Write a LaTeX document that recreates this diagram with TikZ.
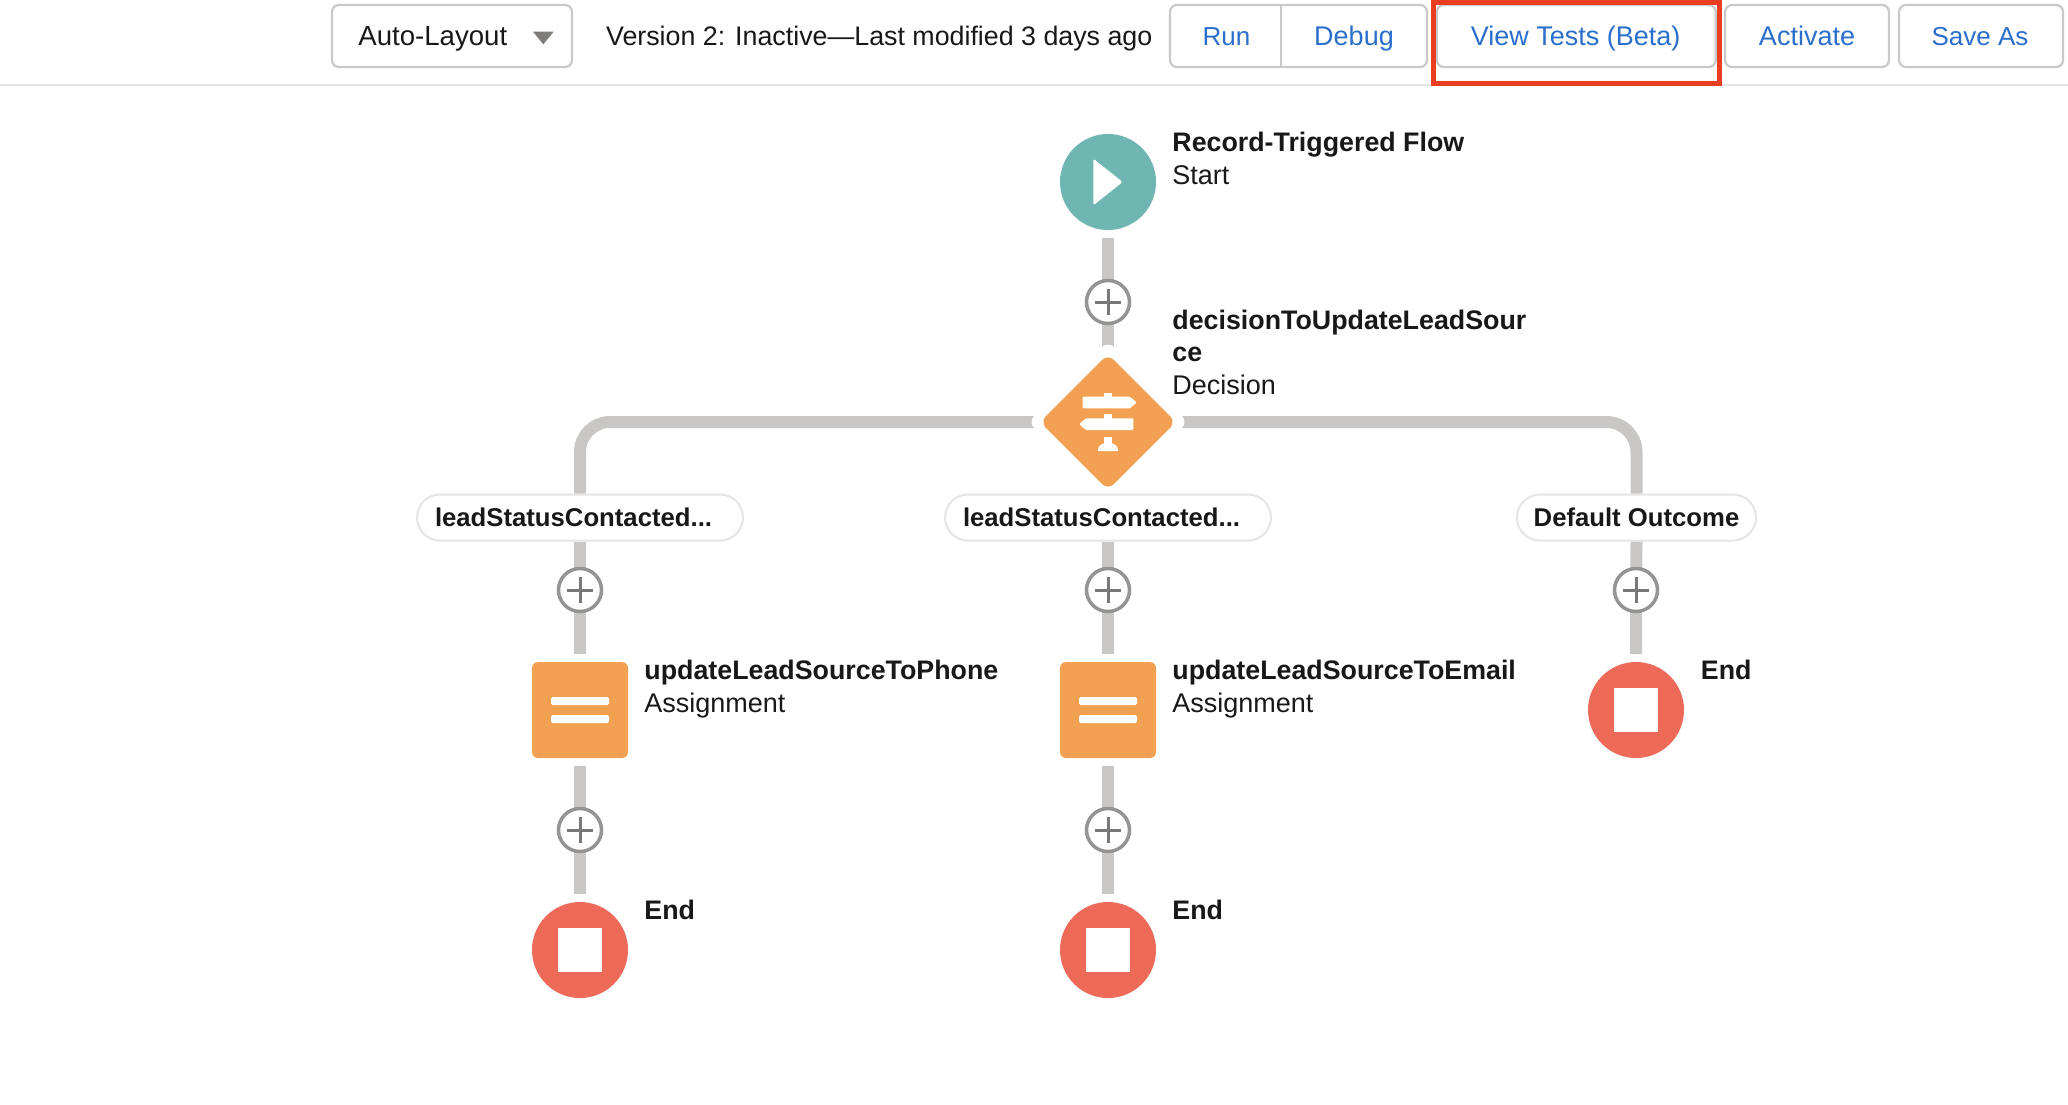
\documentclass[tikz,border=0pt]{standalone}
\usepackage{fontspec}
\setmainfont{Liberation Sans}
\usetikzlibrary{shapes.geometric,backgrounds}
\definecolor{flowgrey}{HTML}{C9C7C5}
\definecolor{plusring}{HTML}{969492}
\definecolor{plusbar}{HTML}{7A7876}
\definecolor{caretgrey}{HTML}{7F7D7B}
\definecolor{teal}{HTML}{6FB5B2}
\definecolor{orangeel}{HTML}{F2A152}
\definecolor{redend}{HTML}{ED6A58}
\definecolor{inkdark}{HTML}{181818}
\definecolor{btnblue}{HTML}{2A6FCB}
\definecolor{btnline}{HTML}{C9C9C9}
\definecolor{pillline}{HTML}{E5E5E5}
\definecolor{redbox}{HTML}{EA3E23}
\tikzset{
  x=0.5pt,y=-0.5pt,
  flow/.style={draw=flowgrey,line width=6pt},
  plusnode/.style={circle,draw=plusring,fill=white,line width=1.75pt,minimum size=21.5pt,inner sep=0pt,
    path picture={\draw[plusbar,line width=1.5pt] (path picture bounding box.center) +(-13,0) -- +(13,0) +(0,-13) -- +(0,13);}},
  roundel/.style={circle,minimum size=48pt,inner sep=0pt,outer sep=4pt},
  taskbox/.style={rectangle,fill=orangeel,rounded corners=3pt,minimum size=48pt,inner sep=0pt,outer sep=4pt},
  pill/.style={rectangle,draw=pillline,fill=white,line width=1pt,rounded corners=11.5pt,minimum height=23pt,inner ysep=0pt,font=\fontsize{12.85pt}{15pt}\selectfont\bfseries,text=inkdark},
  titletext/.style={anchor=base west,inner sep=0pt,text=inkdark,font=\fontsize{13.4pt}{15pt}\selectfont\bfseries},
  subtext/.style={anchor=base west,inner sep=0pt,text=inkdark,font=\fontsize{13.5pt}{15pt}\selectfont},
  btn/.style={rectangle,draw=btnline,fill=white,line width=1.1pt,rounded corners=3.5pt,minimum height=31pt,inner sep=0pt},
  btntext/.style={inner sep=0pt,text=btnblue,font=\fontsize{13.5pt}{15pt}\selectfont,anchor=base},
  toptext/.style={anchor=base west,inner sep=0pt,text=inkdark,font=\fontsize{13.4pt}{15pt}\selectfont},
}
\begin{document}
\begin{tikzpicture}
\useasboundingbox (0,0) rectangle (2068,1104);
\begin{pgfonlayer}{background}
\fill[white] (0,0) rectangle (2068,1104);
\end{pgfonlayer}
% top bar
\draw[pillline,line width=1pt] (0,85) -- (2068,85);
\node[btn,minimum width=120pt] (autobtn) at (452,36) {};
\node[toptext,font=\fontsize{13.8pt}{15pt}\selectfont] (autotext) at (358,45.5) {Auto-Layout};
\fill[caretgrey] (533,31.7) -- (553.7,31.7) -- (543.3,44.3) -- cycle;
\node[toptext] (version) at (605.7,45.5) {Version 2: Inactive—Last modified 3 days ago};
\node[btn,minimum width=128.5pt] (runbox) at (1298.5,36) {};
\draw[btnline,line width=1pt] (runbox.north west -| 1281,0) -- (runbox.south west -| 1281,0);
\node[btntext,font=\fontsize{13pt}{15pt}\selectfont] (run) at (1226.5,45.5) {Run};
\node[btntext] (debug) at (1354,45.5) {Debug};
\node[btn,minimum width=139.5pt] (viewbtn) at (1576.3,36) {};
\node[btntext] (view) at (1575.6,45.5) {View Tests (Beta)};
\node[btn,minimum width=82pt] (actbtn) at (1807,36) {};
\node[btntext] (act) at (1807,45.5) {Activate};
\node[btn,minimum width=82pt] (savebtn) at (1981,36) {};
\node[btntext,font=\fontsize{13pt}{15pt}\selectfont] (save) at (1980,45.5) {Save As};
\draw[redbox,line width=2.5pt] (1433.5,2.3) rectangle (1719.2,83.3);
% flow nodes
\node[roundel,fill=teal] (start) at (1108,182) {};
\node[plusnode] (plus0) at (1108,302) {};
\node[diamond,fill=orangeel,rounded corners=4pt,minimum size=68pt,inner sep=0pt] (decision) at (1108,422) {};
\node[pill,text width=145pt,inner xsep=9pt,align=left,anchor=center] (pillL) at (580,517.5) {leadStatusContacted...};
\node[pill,text width=145pt,inner xsep=9pt,align=left,anchor=center] (pillM) at (1108,517.5) {leadStatusContacted...};
\node[pill,minimum width=119.5pt,inner xsep=0pt] (pillR) at (1636.5,517.5) {Default Outcome};
\node[plusnode] (plusL1) at (580,590) {};
\node[plusnode] (plusM1) at (1108,590) {};
\node[plusnode] (plusR1) at (1636,590) {};
\node[taskbox] (taskL) at (580,710) {};
\node[taskbox] (taskM) at (1108,710) {};
\node[roundel,fill=redend] (endR) at (1636,710) {};
\node[plusnode] (plusL2) at (580,830) {};
\node[plusnode] (plusM2) at (1108,830) {};
\node[roundel,fill=redend] (endL) at (580,950) {};
\node[roundel,fill=redend] (endM) at (1108,950) {};
% connectors
\begin{pgfonlayer}{background}
\draw[flow] (start.south) -- (decision.center);
\draw[flow,rounded corners=15pt] (decision.center) -| (pillL.north);
\draw[flow,rounded corners=15pt] (decision.center) -| (pillR.north);
\draw[flow] (pillL.south) -- (taskL.north);
\draw[flow] (pillM.south) -- (taskM.north);
\draw[flow] (pillR.south) -- (endR.north);
\draw[flow] (taskL.south) -- (endL.north);
\draw[flow] (taskM.south) -- (endM.north);
\fill[white] (decision.north) circle[radius=9];
\fill[white] (decision.west) circle[radius=8];
\fill[white] (decision.east) circle[radius=8];
\end{pgfonlayer}
% icons
\fill[white,rounded corners=0.8pt] (1093.3,158.7) -- (1122.7,182) -- (1093.3,205.3) -- cycle;
\foreach \cx/\cy in {580/710,1108/710}{
  \fill[white,rounded corners=0.8pt] (\cx-29,\cy-13) rectangle (\cx+29,\cy-5);
  \fill[white,rounded corners=0.8pt] (\cx-29,\cy+5) rectangle (\cx+29,\cy+13);
}
\foreach \cx/\cy in {580/950,1108/950,1636/710}
  \fill[white] (\cx-22,\cy-22) rectangle (\cx+22,\cy+22);
% signpost
\fill[white] (1103.5,393.3) rectangle (1111.7,398);
\fill[white,rounded corners=0.5pt] (1082.7,396.7) -- (1130,396.7) -- (1136.7,402.5) -- (1130,408.3) -- (1082.7,408.3) -- cycle;
\fill[white] (1103.5,414) rectangle (1111.7,419);
\fill[white,rounded corners=0.5pt] (1133.3,418.3) -- (1086,418.3) -- (1079,424.2) -- (1086,430) -- (1133.3,430) -- cycle;
\fill[white] (1104.3,436.7) rectangle (1111.7,444);
\fill[white] (1097.7,451) .. controls (1098,445) and (1102,443) .. (1108,443) .. controls (1114,443) and (1118,445) .. (1118.3,451) -- cycle;
% labels
\node[titletext] (t1) at (1172,151.7) {Record-Triggered Flow};
\node[subtext] (s1) at (1172,184.5) {Start};
\node[titletext] (t2a) at (1172,329.7) {decisionToUpdateLeadSour};
\node[titletext] (t2b) at (1172,361.7) {ce};
\node[subtext] (s2) at (1172,394) {Decision};
\node[titletext] (t3) at (644,679.7) {updateLeadSourceToPhone};
\node[subtext] (s3) at (644,712.5) {Assignment};
\node[titletext] (t4) at (1172,679.7) {updateLeadSourceToEmail};
\node[subtext] (s4) at (1172,712.5) {Assignment};
\node[titletext] (t5) at (1700.5,679.7) {End};
\node[titletext] (t6) at (644,919.7) {End};
\node[titletext] (t7) at (1172,919.7) {End};
\end{tikzpicture}
\end{document}
